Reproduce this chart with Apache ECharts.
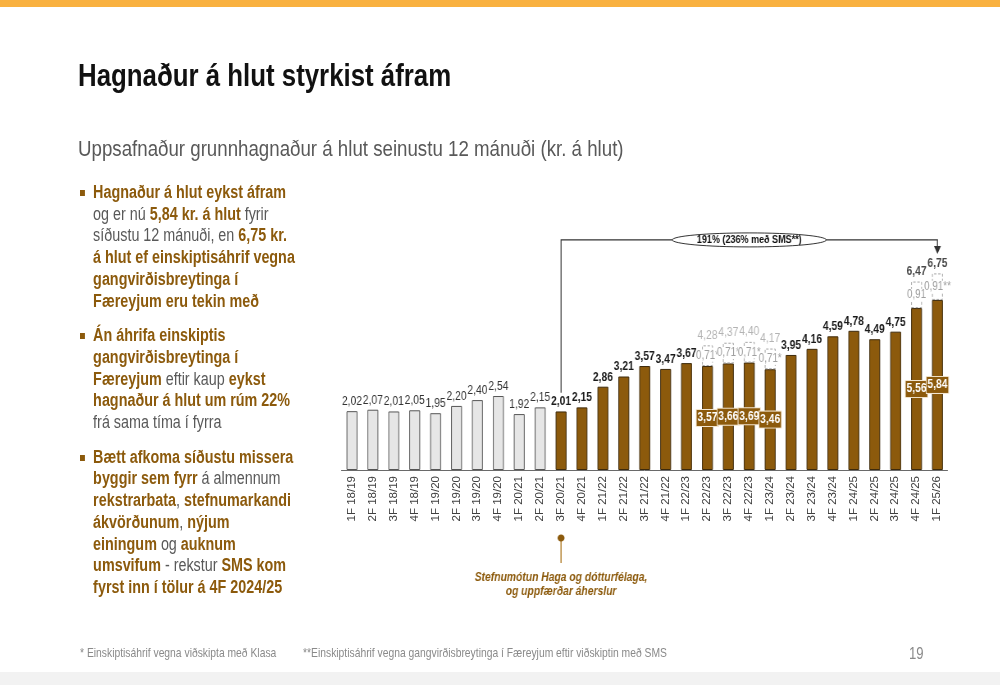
<!DOCTYPE html>
<html><head><meta charset="utf-8">
<script src="https://cdn.jsdelivr.net/npm/echarts@6/dist/echarts.min.js"></script>
<style>
body{margin:0;width:1000px;height:685px;overflow:hidden;background:#fff;font-family:"Liberation Sans Narrow","Arial Narrow","Liberation Sans",Arial,sans-serif;}
#axis{position:absolute;left:0;top:0;width:1000px;height:685px;}
#chart{position:absolute;left:0;top:0;width:1219.5px;height:685px;transform:scaleX(0.82);transform-origin:0 0;}
.topbar{position:absolute;left:0;top:0;width:1000px;height:7px;background:#F9B140;}
.botbar{position:absolute;left:0;top:672px;width:1000px;height:13px;background:#F2F2F2;}
.nar{transform:scaleX(0.82);transform-origin:0 0;white-space:nowrap;position:absolute}
.title{left:78px;top:57px;font-size:31.5px;font-weight:bold;color:#111;}
.sub{left:78px;top:135px;font-size:22.8px;color:#595959;}
.side{left:80px;top:182px;font-size:17.5px;line-height:21.7px;color:#595959;}
.b{color:#8C5A0C;font-weight:bold}
.item{position:relative;padding-left:16px;margin-bottom:13px}
.item:before{content:'';position:absolute;left:0;top:8px;width:6px;height:6px;background:#8C5A0C}
.item.last{margin-top:2px}
.foot{top:646px;font-size:12.6px;color:#8a8a8a;}
.page{left:909px;top:645px;font-size:16px;color:#8a8a8a}
</style></head>
<body>
<div class="topbar"></div>
<div class="botbar"></div>
<div id="axis"></div>
<div id="chart"></div>
<div class="nar title">Hagnaður á hlut styrkist áfram</div>
<div class="nar sub">Uppsafnaður grunnhagnaður á hlut seinustu 12 mánuði (kr. á hlut)</div>
<div class="nar side">
<div class="item"><span class="b">Hagnaður á hlut eykst áfram</span><br>og er nú <span class="b">5,84 kr. á hlut</span> fyrir<br>síðustu 12 mánuði, en <span class="b">6,75 kr.</span><br><span class="b">á hlut ef einskiptisáhrif vegna</span><br><span class="b">gangvirðisbreytinga í</span><br><span class="b">Færeyjum eru tekin með</span></div>
<div class="item"><span class="b">Án áhrifa einskiptis</span><br><span class="b">gangvirðisbreytinga í</span><br><span class="b">Færeyjum</span> eftir kaup <span class="b">eykst</span><br><span class="b">hagnaður á hlut um rúm 22%</span><br>frá sama tíma í fyrra</div>
<div class="item last"><span class="b">Bætt afkoma síðustu missera</span><br><span class="b">byggir sem fyrr</span> á almennum<br><span class="b">rekstrarbata</span>, <span class="b">stefnumarkandi</span><br><span class="b">ákvörðunum</span>, <span class="b">nýjum</span><br><span class="b">einingum</span> og <span class="b">auknum</span><br><span class="b">umsvifum</span> - rekstur <span class="b">SMS kom</span><br><span class="b">fyrst inn í tölur á 4F 2024/25</span></div>
</div>
<div class="nar foot" style="left:80px">* Einskiptisáhrif vegna viðskipta með Klasa</div>
<div class="nar foot" style="left:303px">**Einskiptisáhrif vegna gangvirðisbreytinga í Færeyjum eftir viðskiptin með SMS</div>
<div class="nar page">19</div>
<script>
const FONT = '"Liberation Sans Narrow","Arial Narrow","Liberation Sans",Arial,sans-serif';
const BROWN = '#8C5A0C';
const GREY = '#E6E6E6';
const SX = 0.82; // horizontal condensing of the chart layer (narrow-font look)

const categories = ['1F 18/19','2F 18/19','3F 18/19','4F 18/19','1F 19/20','2F 19/20','3F 19/20','4F 19/20',
  '1F 20/21','2F 20/21','3F 20/21','4F 20/21','1F 21/22','2F 21/22','3F 21/22','4F 21/22',
  '1F 22/23','2F 22/23','3F 22/23','4F 22/23','1F 23/24','2F 23/24','3F 23/24','4F 23/24',
  '1F 24/25','2F 24/25','3F 24/25','4F 24/25','1F 25/26'];
const epsValues = [2.02,2.07,2.01,2.05,1.95,2.20,2.40,2.54,1.92,2.15,2.01,2.15,2.86,3.21,3.57,3.47,
  3.67,3.57,3.66,3.69,3.46,3.95,4.16,4.59,4.78,4.49,4.75,5.56,5.84];
const oneOffValues = [null,null,null,null,null,null,null,null,null,null,null,null,null,null,null,null,
  null,0.71,0.71,0.71,0.71,null,null,null,null,null,null,0.91,0.91];
const oneOffLabels = ['','','','','','','','','','','','','','','','',
  '','0,71*','0,71*','0,71*','0,71*','','','','','','','0,91','0,91**'];
const totalValues = [null,null,null,null,null,null,null,null,null,null,null,null,null,null,null,null,
  null,4.28,4.37,4.40,4.17,null,null,null,null,null,null,6.47,6.75];
const boldTotals = [false,false,false,false,false,false,false,false,false,false,false,false,false,false,false,false,
  false,false,false,false,false,false,false,false,false,false,false,true,true];
const oldBasisCount = 10;
const growthText = '191% (236% með SMS**)';
const noteLines = ['Stefnumótun Haga og dótturfélaga,', 'og uppfærðar áherslur'];

const fmt = v => v.toFixed(2).replace('.', ',');
const GRID = { left: 341.5, right: 52.5, top: 237, bottom: 215 };

// axis layer (unscaled, so the rotated labels keep their proportions)
const axisChart = echarts.init(document.getElementById('axis'));
axisChart.setOption({
  animation: false,
  grid: GRID,
  xAxis: {
    type: 'category', data: categories,
    axisLine: { lineStyle: { color: '#6a6a6a', width: 1 } },
    axisTick: { show: false },
    axisLabel: { rotate: 90, interval: 0, fontSize: 11.5, color: '#404040', fontFamily: FONT, margin: 6 }
  },
  yAxis: { type: 'value', min: 0, max: 8, show: false },
  series: []
});

// bar layer (condensed horizontally)
const chart = echarts.init(document.getElementById('chart'));

const epsData = epsValues.map((v, i) => {
  const old = i < oldBasisCount;
  const item = {
    value: v,
    itemStyle: { color: old ? GREY : BROWN, borderColor: old ? '#555' : '#3d2a0c', borderWidth: 1 }
  };
  if (oneOffValues[i] != null) {
    item.label = { show: true, position: 'inside', color: '#fff', fontWeight: 'bold', fontSize: 12.5,
      fontFamily: FONT, backgroundColor: BROWN, borderColor: '#f3e6d0', borderWidth: 1, padding: [2, 1, 1, 1] };
  } else {
    item.label = { show: true, position: 'top', distance: 3, color: old ? '#333' : '#1a1a1a',
      fontWeight: old ? 'normal' : 'bold', fontSize: 12.5, fontFamily: FONT };
  }
  return item;
});

const totalData = totalValues.map((v, i) => v == null ? null : ({
  value: v,
  label: boldTotals[i] ? { color: '#1a1a1a', fontWeight: 'bold' } : { color: '#a0a0a0', fontWeight: 'normal' }
}));

chart.setOption({
  animation: false,
  grid: { left: GRID.left / SX, right: GRID.right / SX, top: GRID.top, bottom: GRID.bottom },
  xAxis: { type: 'category', data: categories, axisLine: { show: false }, axisTick: { show: false }, axisLabel: { show: false } },
  yAxis: { type: 'value', min: 0, max: 8, show: false },
  series: [
    { type: 'bar', name: 'eps', stack: 'a', barWidth: '52%', data: epsData,
      label: { formatter: p => fmt(p.value) } },
    { type: 'bar', name: 'oneoff', stack: 'a', barWidth: '52%', data: oneOffValues,
      itemStyle: { color: 'rgba(0,0,0,0)', borderColor: '#a6a6a6', borderWidth: 1, borderType: [3, 2] },
      label: { show: true, position: 'inside', fontSize: 12, fontFamily: FONT, color: '#a0a0a0',
        backgroundColor: '#fff', padding: [0, 0],
        formatter: p => oneOffLabels[p.dataIndex] } },
    { type: 'scatter', name: 'total', symbol: 'circle', symbolSize: 1, data: totalData, z: 5,
      itemStyle: { color: 'rgba(0,0,0,0)' },
      label: { show: true, position: 'top', distance: 3, fontFamily: FONT, fontSize: 12.5,
        formatter: p => fmt(p.value) } }
  ]
});

const px = (i, v) => chart.convertToPixel({ gridIndex: 0 }, [categories[i], v]);
const startIdx = 10, endIdx = 28, midIdx = 19;
const a0 = px(startIdx, 2.65), a1 = px(startIdx, 7.9), a2 = px(endIdx, 7.9), a3 = px(endIdx, 7.42);
const m = px(midIdx, 7.9);
const base = px(startIdx, 0);
const lineCol = '#333';
chart.setOption({
  graphic: [
    { type: 'polyline', shape: { points: [a0, a1, a2, [a3[0], a3[1] - 7]] }, style: { stroke: lineCol, lineWidth: 1.2, fill: null } },
    { type: 'polygon', shape: { points: [[a3[0] - 3.5 / SX, a3[1] - 8], [a3[0] + 3.5 / SX, a3[1] - 8], [a3[0], a3[1]]] }, style: { fill: lineCol } },
    { type: 'ellipse', shape: { cx: m[0], cy: m[1], rx: 77 / SX, ry: 7 }, style: { fill: '#fff', stroke: lineCol, lineWidth: 1 } },
    { type: 'text', x: m[0], y: m[1] + 0.5, style: { text: growthText, font: 'bold 11px ' + FONT, fill: '#111', align: 'center', verticalAlign: 'middle' } },
    { type: 'line', shape: { x1: base[0], y1: base[1] + 68, x2: base[0], y2: base[1] + 93 }, style: { stroke: '#B98A3E', lineWidth: 1.6 } },
    { type: 'ellipse', shape: { cx: base[0], cy: base[1] + 68, rx: 3.5 / SX, ry: 3.5 }, style: { fill: BROWN } },
    { type: 'text', x: base[0], y: base[1] + 108, style: { text: noteLines[0], font: 'italic bold 12.6px ' + FONT, fill: BROWN, align: 'center', verticalAlign: 'middle' } },
    { type: 'text', x: base[0], y: base[1] + 122, style: { text: noteLines[1], font: 'italic bold 12.6px ' + FONT, fill: BROWN, align: 'center', verticalAlign: 'middle' } }
  ]
});
</script>
</body></html>
